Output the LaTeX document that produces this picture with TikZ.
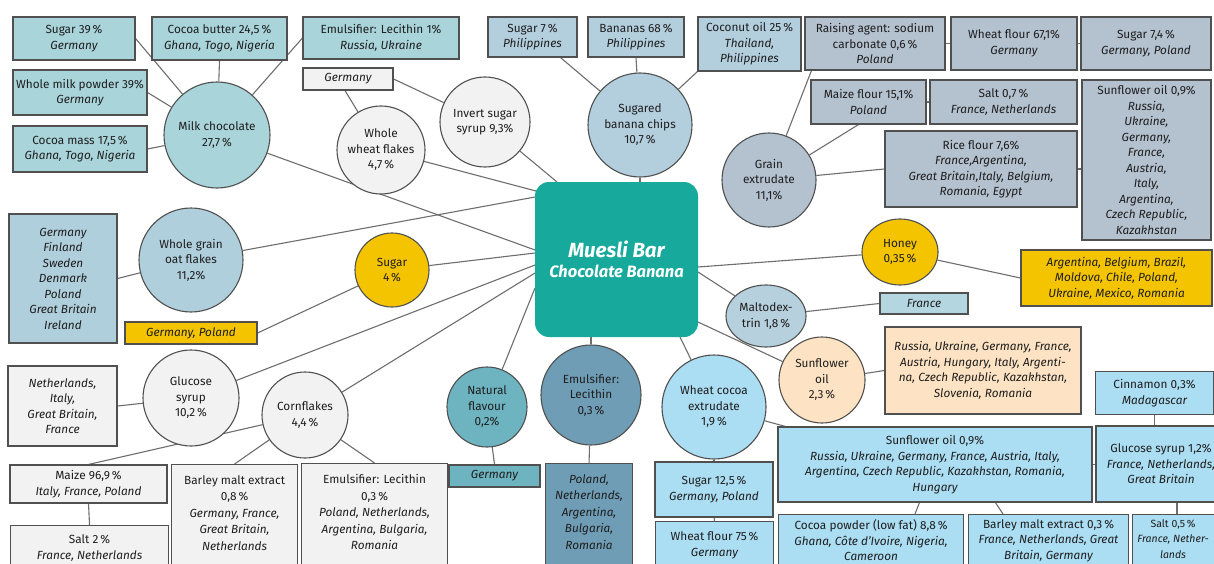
\documentclass[tikz,border=0pt]{standalone}
\usepackage{fontspec}
\setmainfont{Fira Sans}
\usetikzlibrary{shapes.geometric,calc,backgrounds}
\definecolor{txt}{HTML}{1E1E1E}
\definecolor{bord}{HTML}{505050}
\definecolor{lnk}{HTML}{6E6E6E}
\definecolor{cMilk}{HTML}{A9D4DA}
\definecolor{cWhite}{HTML}{F2F2F2}
\definecolor{cBan}{HTML}{B3CEDD}
\definecolor{cGrain}{HTML}{B4C1CF}
\definecolor{cOat}{HTML}{B0CFDC}
\definecolor{cYel}{HTML}{F4C400}
\definecolor{cTeal}{HTML}{17A99B}
\definecolor{cNat}{HTML}{6DB3C0}
\definecolor{cLec}{HTML}{6F9DB6}
\definecolor{cMal}{HTML}{B7D0DD}
\definecolor{cFr}{HTML}{B4D6E1}
\definecolor{cPeach}{HTML}{FDE3C3}
\definecolor{cSky}{HTML}{ABDDF3}
\newcommand\cty[1]{{\itshape #1}}
\tikzset{
  every node/.style={font=\fontsize{11.8}{15.5}\selectfont, text=txt},
  box/.style={draw=bord, line width=1.1pt, rectangle, align=center, inner sep=1pt},
  circ/.style={draw=bord, line width=1.1pt, circle, align=center, inner sep=0pt},
  ell/.style={draw=bord, line width=1.1pt, ellipse, align=center, inner sep=0pt},
  link/.style={draw=lnk, line width=1.1pt},
  toptext/.style={anchor=north, align=center, font=\fontsize{11.8}{16.5}\selectfont}
}
\begin{document}
\begin{tikzpicture}[x=1pt,y=-1pt]
\clip (0,0) rectangle (1214,564);
% ---------- milk chocolate
\node[box,fill=cMilk,minimum width=122,minimum height=43] (sug39) at (74,38.5) {Sugar 39\,\%\\\cty{Germany}};
\node[box,fill=cMilk,minimum width=135,minimum height=43] (cocb) at (219.5,38.5) {Cocoa butter 24,5\,\%\\\cty{Ghana, Togo, Nigeria}};
\node[box,fill=cMilk,minimum width=134,minimum height=45] (wmp) at (80,92.5) {Whole milk powder 39\%\\\cty{Germany}};
\node[box,fill=cMilk,minimum width=134,minimum height=46] (cocm) at (80,149) {Cocoa mass 17,5\,\%\\\cty{Ghana, Togo, Nigeria}};
\node[box,fill=cMilk,minimum width=156,minimum height=42] (emu1) at (381,38) {Emulsifier: Lecithin 1\%\\\cty{Russia, Ukraine}};
\node[circ,fill=cMilk,minimum size=106] (milk) at (217,135) {Milk chocolate\\27,7\,\%};
% ---------- whole wheat / invert sugar
\node[box,fill=cWhite,minimum width=90,minimum height=22] (gerW) at (348,79) {\cty{Germany}};
\node[circ,fill=cWhite,minimum size=88] (wwf) at (381,150) {Whole\\wheat flakes\\4,7\,\%};
\node[circ,fill=cWhite,minimum size=90] (inv) at (485,122) {Invert sugar\\syrup 9,3\%};
% ---------- banana chips
\node[box,fill=cBan,minimum width=89,minimum height=40] (sug7) at (532.5,37) {Sugar 7\,\%\\\cty{Philippines}};
\node[box,fill=cBan,minimum width=96,minimum height=40] (ban68) at (636,37) {Bananas 68\,\%\\\cty{Philippines}};
\node[box,fill=cBan,minimum width=103,minimum height=54] (coco) at (749.5,44) {Coconut oil 25\,\%\\\cty{Thailand,}\\\cty{Philippines}};
\node[circ,fill=cBan,minimum size=104] (chips) at (640,125) {Sugared\\banana chips\\10,7\,\%};
% ---------- grain extrudate
\node[box,fill=cGrain,minimum width=140,minimum height=53] (rais) at (875,43.5) {Raising agent: sodium\\carbonate 0,6\,\%\\\cty{Poland}};
\node[box,fill=cGrain,minimum width=126,minimum height=53] (whf) at (1014,43.5) {Wheat flour 67,1\%\\\cty{Germany}};
\node[box,fill=cGrain,minimum width=130,minimum height=53] (sug74) at (1146,43.5) {Sugar 7,4\,\%\\\cty{Germany, Poland}};
\node[box,fill=cGrain,minimum width=115,minimum height=44] (maize) at (868.5,102) {Maize flour 15,1\%\\\cty{Poland}};
\node[box,fill=cGrain,minimum width=147,minimum height=44] (salt07) at (1003.5,102) {Salt 0,7\,\%\\\cty{France, Netherlands}};
\node[box,fill=cGrain,minimum width=129,minimum height=160] (sunG) at (1146.5,160) {Sunflower oil 0,9\%\\\cty{Russia,}\\\cty{Ukraine,}\\\cty{Germany,}\\\cty{France,}\\\cty{Austria,}\\\cty{Italy,}\\\cty{Argentina,}\\\cty{Czech Republic,}\\\cty{Kazakhstan}};
\node[box,fill=cGrain,minimum width=192,minimum height=76] (rice) at (981,169) {Rice flour 7,6\%\\\cty{France,Argentina,}\\\cty{Great Britain,Italy, Belgium,}\\\cty{Romania, Egypt}};
\node[circ,fill=cGrain,minimum size=94] (grain) at (769,180) {Grain\\extrudate\\11,1\%};
% ---------- oat flakes
\node[box,fill=cOat,minimum width=108,minimum height=129] (oatC) at (63,278.5) {\cty{Germany}\\\cty{Finland}\\\cty{Sweden}\\\cty{Denmark}\\\cty{Poland}\\\cty{Great Britain}\\\cty{Ireland}};
\node[circ,fill=cOat,minimum size=104] (oat) at (191,260) {Whole grain\\oat flakes\\11,2\%};
% ---------- sugar 4 %
\node[circ,fill=cYel,minimum size=74] (sug4) at (392,270) {Sugar\\4\,\%};
\node[box,fill=cYel,minimum width=132,minimum height=22] (gp) at (191,333) {\cty{Germany, Poland}};
% ---------- centre
\node[fill=cTeal,rounded corners=14pt,minimum width=163,minimum height=155,align=center,text=white,
      font=\fontsize{20.5}{20}\selectfont\bfseries\itshape] (mb) at (616.5,259.5)
      {Muesli Bar\\{\fontsize{16.5}{20}\selectfont Chocolate Banana}};
% ---------- honey
\node[ell,fill=cYel,minimum width=76,minimum height=66] (honey) at (900,252) {Honey\\0,35\,\%};
\node[box,fill=cYel,minimum width=191,minimum height=56] (honeyC) at (1116.5,278) {\cty{Argentina, Belgium, Brazil,}\\\cty{Moldova, Chile, Poland,}\\\cty{Ukraine, Mexico, Romania}};
% ---------- maltodextrin
\node[ell,fill=cMal,minimum width=80,minimum height=62] (malto) at (766,316) {Maltodex-\\trin 1,8\,\%};
\node[box,fill=cFr,minimum width=88,minimum height=21] (fr) at (924,303.5) {\cty{France}};
% ---------- sunflower oil 2,3 %
\node[circ,fill=cPeach,minimum size=86] (sun23) at (822,380) {Sunflower\\oil\\2,3\,\%};
\node[box,fill=cPeach,minimum width=196,minimum height=87] (sunC) at (983,370.5) {\cty{Russia, Ukraine, Germany, France,}\\\cty{Austria, Hungary, Italy, Argenti-}\\\cty{na, Czech Republic, Kazakhstan,}\\\cty{Slovenia, Romania}};
% ---------- glucose syrup
\node[box,fill=cWhite,minimum width=109,minimum height=80] (gluC) at (62.5,406) {\cty{Netherlands,}\\\cty{Italy,}\\\cty{Great Britain,}\\\cty{France}};
\node[circ,fill=cWhite,minimum size=96] (glu) at (191,398) {Glucose\\syrup\\10,2\,\%};
% ---------- cornflakes
\node[circ,fill=cWhite,minimum size=86] (corn) at (305,415) {Cornflakes\\4,4\,\%};
\node[box,fill=cWhite,minimum width=157,minimum height=38] (maize969) at (88.5,484) {Maize 96,9\,\%\\\cty{Italy, France, Poland}};
\node[box,fill=cWhite,minimum width=158,minimum height=70,anchor=north west] (salt2) at (10,525) {};
\node[toptext] at ([yshift=-6]salt2.north) {Salt 2\,\%\\\cty{France, Netherlands}};
\node[box,fill=cWhite,minimum width=126,minimum height=120,anchor=north west] (barley08) at (171,464) {};
\node[toptext] at ([yshift=-8]barley08.north) {Barley malt extract\\0,8\,\%\\\cty{Germany, France,}\\\cty{Great Britain,}\\\cty{Netherlands}};
\node[box,fill=cWhite,minimum width=146,minimum height=120,anchor=north west] (emuW) at (301,463) {};
\node[toptext] at ([yshift=-8]emuW.north) {Emulsifier: Lecithin\\0,3\,\%\\\cty{Poland, Netherlands,}\\\cty{Argentina, Bulgaria,}\\\cty{Romania}};
% ---------- natural flavour
\node[circ,fill=cNat,minimum size=80] (nat) at (487,407) {Natural\\flavour\\0,2\%};
\node[box,fill=cNat,minimum width=91,minimum height=22] (gerN) at (494.5,476) {\cty{Germany}};
% ---------- lecithin
\node[circ,fill=cLec,minimum size=100] (lec) at (591,395) {Emulsifier:\\Lecithin\\0,3\,\%};
\node[box,fill=cLec,minimum width=87,minimum height=120,anchor=north west] (lecC) at (545,463) {};
\node[toptext] at ([yshift=-8]lecC.north) {\cty{Poland,}\\\cty{Netherlands,}\\\cty{Argentina,}\\\cty{Bulgaria,}\\\cty{Romania}};
% ---------- wheat cocoa extrudate
\node[circ,fill=cSky,minimum size=104] (wc) at (714,407) {Wheat cocoa\\extrudate\\1,9\,\%};
\node[box,fill=cSky,minimum width=118,minimum height=55] (sug125) at (714,489.5) {Sugar 12,5\,\%\\\cty{Germany, Poland}};
\node[box,fill=cSky,minimum width=118,minimum height=70,anchor=north west] (wf75) at (655,521) {};
\node[toptext] at ([yshift=-7]wf75.north) {Wheat flour 75\,\%\\\cty{Germany}};
\node[box,fill=cSky,minimum width=314,minimum height=75] (sunB) at (935,464.5) {Sunflower oil 0,9\%\\\cty{Russia, Ukraine, Germany, France, Austria, Italy,}\\\cty{Argentina, Czech Republic, Kazakhstan, Romania,}\\\cty{Hungary}};
\node[box,fill=cSky,minimum width=118,minimum height=43] (cinn) at (1154.5,393) {Cinnamon 0,3\%\\\cty{Madagascar}};
\node[box,fill=cSky,minimum width=130,minimum height=76] (gluB) at (1161,464) {Glucose syrup 1,2\%\\\cty{France, Netherlands,}\\\cty{Great Britain}};
\node[box,fill=cSky,minimum width=185,minimum height=70,anchor=north west] (cocoaP) at (778,514) {};
\node[toptext,font=\fontsize{11.8}{15.5}\selectfont] at ([yshift=-2]cocoaP.north) {Cocoa powder (low fat) 8,8\,\%\\\cty{Ghana, Côte d'Ivoire, Nigeria,}\\\cty{Cameroon}};
\node[box,fill=cSky,minimum width=160,minimum height=70,anchor=north west] (barley03) at (968,514) {};
\node[toptext,font=\fontsize{11.8}{15.5}\selectfont] at ([yshift=-2]barley03.north) {Barley malt extract 0,3\,\%\\\cty{France, Netherlands, Great}\\\cty{Britain, Germany}};
\node[box,fill=cSky,minimum width=95,minimum height=70,anchor=north west] (salt05) at (1132,514) {};
\node[toptext,font=\fontsize{10.5}{15.5}\selectfont] at ([xshift=-7,yshift=-2]salt05.north) {Salt 0,5\,\%\\\cty{France, Nether-}\\\cty{lands}};
% ---------- connector end points on the centre box
\coordinate (pMilk) at (535,250);
\coordinate (pWwf) at (536,191);
\coordinate (pInv) at (557,182);
\coordinate (pOat) at (535,197);
\coordinate (pSug4) at (535,253);
\coordinate (pGlu) at (535,265);
\coordinate (pCorn) at (535,273);
\coordinate (pNat) at (535,288);
\coordinate (pWc) at (680,337);
\coordinate (pHoney) at (698,267);
\coordinate (pMalto) at (698,272);
\coordinate (pSun) at (698,322);
% ---------- connectors
\begin{scope}[on background layer]
\fill[white] (0,0) rectangle (1214,564);
\draw[link] (sug39.east) -- (milk);
\draw[link] (cocb.south) -- (milk);
\draw[link] (emu1.west) -- (milk);
\draw[link] (wmp.east) -- (milk);
\draw[link] (cocm.east) -- (milk);
\draw[link] (milk) -- (pMilk);
\draw[link] ([xshift=-3]gerW.south) -- (wwf);
\draw[link] (gerW.east) -- (inv);
\draw[link] (wwf) -- (pWwf);
\draw[link] (inv) -- (pInv);
\draw[link] ([xshift=28]sug7.south) -- (chips);
\draw[link] (ban68.south) -- (chips);
\draw[link] (coco.south west) -- (chips);
\draw[link] (chips.south) -- (chips.south |- mb.north);
\draw[link] (grain) -- ([xshift=7]rais.south west);
\draw[link] (grain) -- ([xshift=-10]maize.south);
\draw[link] (grain) -- (rice.west);
\draw[link] (rais.east) -- (whf.west);
\draw[link] (whf.east) -- (sug74.west);
\draw[link] (maize.east) -- (salt07.west);
\draw[link] (rice.east) -- (rice.east -| sunG.west);
\draw[link] (oatC.east) -- (oat);
\draw[link] (oat) -- (pOat);
\draw[link] (gp.east) -- (sug4);
\draw[link] (sug4) -- (pSug4);
\draw[link] (pHoney) -- (honey);
\draw[link] (honey) -- (honeyC.west);
\draw[link] (pMalto) -- (malto);
\draw[link] (malto) -- (fr.west);
\draw[link] (pSun) -- (sun23);
\draw[link] (sun23) -- (sunC.west);
\draw[link] (gluC.east) -- (glu);
\draw[link] (glu) -- (pGlu);
\draw[link] (corn) -- (pCorn);
\draw[link] (corn) -- (maize969.north);
\draw[link] (corn) -- (barley08.north);
\draw[link] (corn) -- (emuW.north);
\draw[link] (maize969.south) -- (salt2.north);
\draw[link] (nat) -- (pNat);
\draw[link] (nat) -- (gerN.north);
\draw[link] (lec) -- (lec |- mb.south);
\draw[link] (lec) -- (lecC.north);
\draw[link] (wc) -- (pWc);
\draw[link] (wc) -- (sug125.north);
\draw[link] (sug125.south) -- (wf75.north);
\draw[link] (wc) -- ([xshift=8]sunB.north west);
\draw[link] (sunB.east) -- (sunB.east -| gluB.west);
\draw[link] (cinn.south) -- (cinn.south |- gluB.north);
\draw[link] ([xshift=142]sunB.south west) -- ([xshift=137]cocoaP.north west);
\draw[link] ([xshift=218]sunB.south west) -- ([xshift=35]barley03.north west);
\draw[link] ([xshift=16]gluB.south) -- ([xshift=16]gluB.south |- salt05.north);
\end{scope}
\end{tikzpicture}
\end{document}
